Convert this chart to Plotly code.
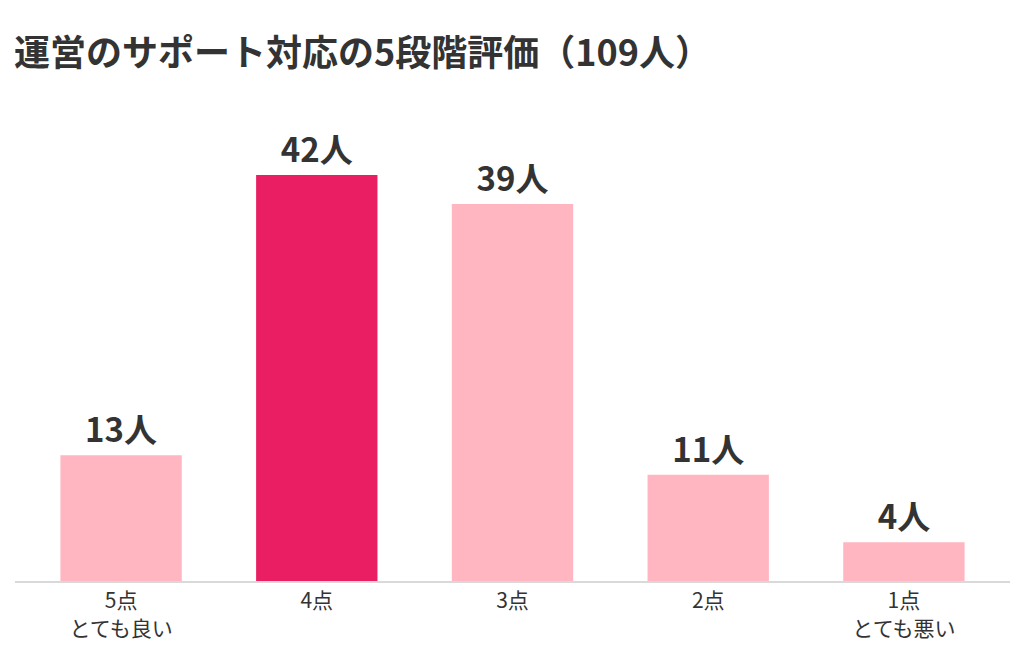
import plotly.graph_objects as go

# 5段階評価の回答数
categories = ['5点<br>とても良い', '4点', '3点', '2点', '1点<br>とても悪い']
counts = [13, 42, 39, 11, 4]

base_color = '#FFB6C1'
highlight_color = '#E91E63'
text_color = '#333333'
font_family = 'Noto Sans CJK JP'

# 最多回答だけ強調
top = max(counts)
bar_colors = [highlight_color if c == top else base_color for c in counts]

fig = go.Figure()

fig.add_trace(go.Bar(
    x=categories,
    y=counts,
    marker=dict(color=bar_colors, line=dict(width=0)),
    width=0.62,
    texttemplate='<b>%{y}人</b>',
    textposition='outside',
    textfont=dict(size=33, color=text_color, family=font_family),
    cliponaxis=False,
    hoverinfo='none',
    showlegend=False
))

# page body has an 8px margin, so the figure is 8px smaller and offsets are shifted
fig.update_layout(
    width=1016,
    height=652,
    margin=dict(l=7, r=14, t=109, b=79),
    paper_bgcolor='white',
    plot_bgcolor='white',
    font=dict(family=font_family, color=text_color),
    title=dict(
        text='<b>運営のサポート対応の5段階評価（109人）</b>',
        x=6 / 1016,
        xanchor='left',
        xref='container',
        y=1 - 45 / 652,
        yanchor='middle',
        yref='container',
        font=dict(size=36, color=text_color, family=font_family)
    ),
    showlegend=False
)

fig.update_xaxes(
    range=[-0.542, 4.542],
    showline=True,
    linecolor='#d9d9d9',
    linewidth=2,
    showgrid=False,
    zeroline=False,
    ticks='',
    tickfont=dict(size=21, color=text_color, family=font_family)
)

fig.update_yaxes(
    range=[0, 48],
    showgrid=False,
    zeroline=False,
    showticklabels=False,
    showline=False
)

fig.write_html('out.html')
